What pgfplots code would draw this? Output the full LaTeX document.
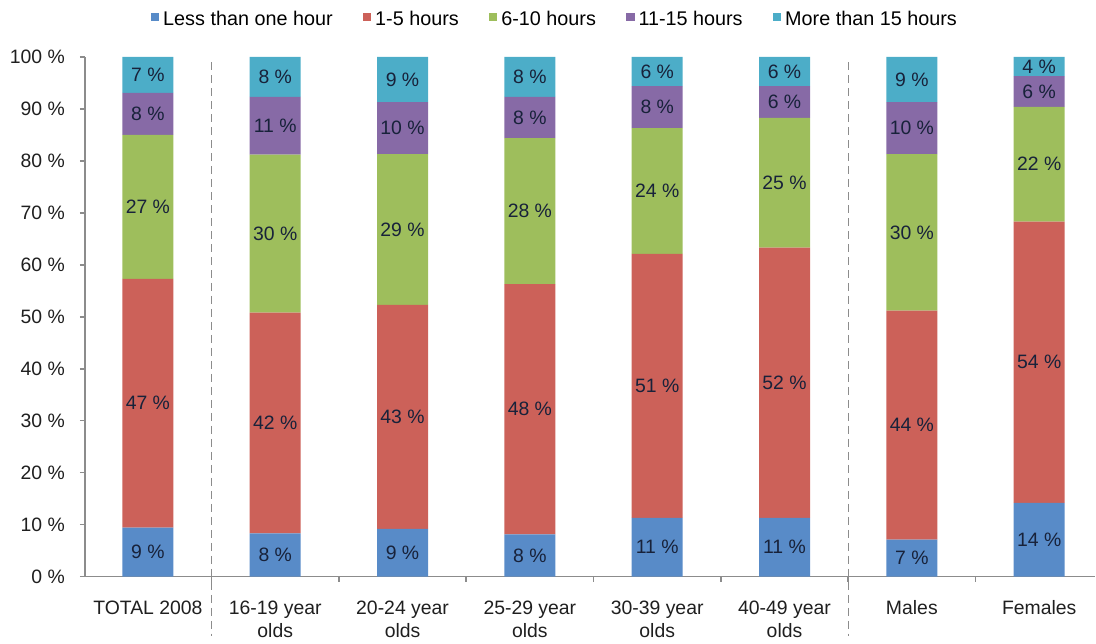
\documentclass[border=0pt]{standalone}
\usepackage{pgfplots}
\pgfplotsset{compat=1.18}
\usepackage{pgfplotstable}
\usepackage{fontspec}
\setmainfont{Liberation Sans}
\definecolor{cA}{RGB}{88,139,200}
\definecolor{cB}{RGB}{204,97,89}
\definecolor{cC}{RGB}{158,190,92}
\definecolor{cD}{RGB}{135,106,166}
\definecolor{cE}{RGB}{76,173,200}
\definecolor{axcol}{RGB}{140,140,140}
\definecolor{labcol}{RGB}{24,34,58}
\pgfplotstableread{
x a la b lb c lc d ld e le
0 9.4 9 47.9 47 27.7 27 8.1 8 6.9 7
1 8.3 8 42.5 42 30.4 30 11.1 11 7.7 8
2 9.2 9 43.1 43 29.0 29 10.0 10 8.7 9
3 8.1 8 48.2 48 28.1 28 7.9 8 7.7 8
4 11.3 11 50.8 51 24.2 24 8.1 8 5.6 6
5 11.3 11 52.0 52 25.0 25 6.1 6 5.6 6
6 7.1 7 44.1 44 30.1 30 10.0 10 8.7 9
7 14.2 14 54.1 54 22.1 22 5.9 6 3.7 4
}\datatable
\begin{document}
\begin{tikzpicture}
\begin{axis}[
  scale only axis,
  width=505.5pt, height=260pt,
  xmin=-0.4945, xmax=7.44,
  ymin=0, ymax=100,
  clip=false,
  ybar stacked, bar width=25.5pt,
  axis x line*=bottom, axis y line*=left,
  axis line style={axcol, line width=0.8pt},
  tick style={axcol, line width=0.8pt},
  tick align=outside,
  major tick length=2.5pt,
  ytick={0,10,...,100},
  yticklabels={0 \%,10 \%,20 \%,30 \%,40 \%,50 \%,60 \%,70 \%,80 \%,90 \%,100 \%},
  yticklabel style={xshift=-4pt},
  xtick={0.5,1.5,...,6.5},
  xticklabels={},
  extra x ticks={0,1,2,3,4,5,6,7},
  extra x tick labels={TOTAL 2008,{16-19 year\\olds},{20-24 year\\olds},{25-29 year\\olds},{30-39 year\\olds},{40-49 year\\olds},Males,Females},
  extra x tick style={major tick length=0pt, xticklabel style={align=center, yshift=-8.5pt}},
  tick label style={font=\fontsize{9.7}{11.5}\selectfont, text=black!88},
  point meta=explicit symbolic,
  nodes near coords={\pgfplotspointmeta~\%},
  every node near coord/.append style={anchor=center, font=\fontsize{9.7}{11.5}\selectfont, text=labcol},
  legend columns=5,
  legend style={draw=none, fill=none, at={(0.466,1.072)}, anchor=center,
    font=\fontsize{9.9}{11.5}\selectfont,
    /tikz/every even column/.append style={column sep=13pt}},
  legend image code/.code={\fill[#1] (0pt,-0.8pt) rectangle (4.3pt,3.5pt);},
]
\addplot[fill=cA, draw=none] table[x=x, y=a, meta=la]{\datatable};
\addplot[fill=cB, draw=none] table[x=x, y=b, meta=lb]{\datatable};
\addplot[fill=cC, draw=none] table[x=x, y=c, meta=lc]{\datatable};
\addplot[fill=cD, draw=none] table[x=x, y=d, meta=ld]{\datatable};
\addplot[fill=cE, draw=none] table[x=x, y=e, meta=le]{\datatable};
\legend{Less than one hour,1-5 hours,6-10 hours,11-15 hours,More than 15 hours}
\draw[axcol, line width=0.6pt, dash pattern=on 4pt off 2.5pt] (axis cs:0.5,99) -- ([yshift=-29.5pt]axis cs:0.5,0);
\draw[axcol, line width=0.6pt, dash pattern=on 4pt off 2.5pt] (axis cs:5.5,99) -- ([yshift=-29.5pt]axis cs:5.5,0);
\path ([xshift=-42.5pt,yshift=-32.5pt]rel axis cs:0,0) rectangle ([yshift=28.5pt]rel axis cs:1,1);
\end{axis}
\end{tikzpicture}
\end{document}
